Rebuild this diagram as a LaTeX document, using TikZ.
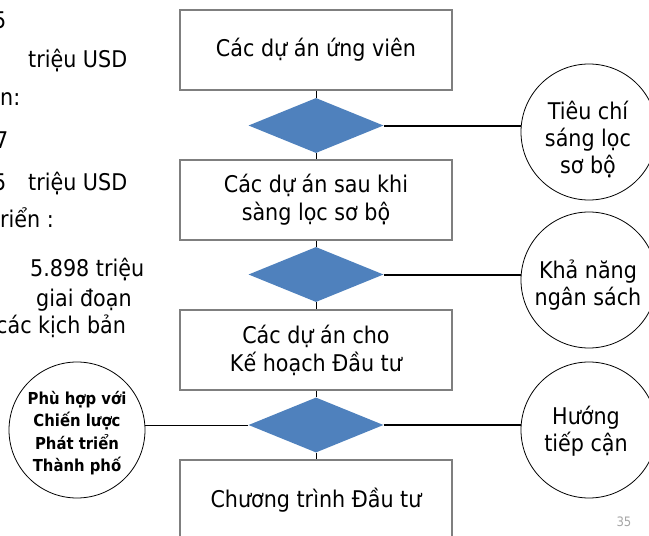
\documentclass[tikz,border=0pt]{standalone}
\usepackage{fontspec}
\setmainfont{DejaVu Sans Condensed}
\usetikzlibrary{shapes.geometric}
\definecolor{diablue}{HTML}{4F81BD}
\definecolor{boxgray}{HTML}{7F7F7F}
\definecolor{pagegray}{HTML}{A6A6A6}
\begin{document}
\begin{tikzpicture}[x=1pt,y=-1pt,
  box/.style={draw=boxgray, line width=1.2pt, minimum width=272pt, minimum height=80pt, align=center, font=\fontsize{23}{28}\selectfont, inner sep=0pt},
  dia/.style={diamond, fill=diablue, draw=none, minimum width=135pt, minimum height=55pt, inner sep=0pt},
  crit/.style={circle, draw=black, line width=0.8pt, minimum size=136pt, inner sep=0pt},
  crittext/.style={align=center, font=\fontsize{23}{27}\selectfont, inner sep=0pt},
  side/.style={anchor=base west, font=\fontsize{23}{28}\selectfont, inner sep=0pt},
  thinline/.style={draw=black, line width=0.8pt},
  thickline/.style={draw=black, line width=2pt}]
\useasboundingbox (0,0) rectangle (649,536);
\clip (0,0) rectangle (649,536);
% boxes
\node[box] (b1) at (316,50) {Các dự án ứng viên};
\node[box] (b2) at (316,200) {Các dự án sau khi\\sàng lọc sơ bộ};
\node[box] (b3) at (316,350) {Các dự án cho\\Kế hoạch Đầu tư};
\node[box] (b4) at (316,500) {Chương trình Đầu tư};
% diamonds
\node[dia] (d1) at (316,125.5) {};
\node[dia] (d2) at (316,274.5) {};
\node[dia] (d3) at (316,425) {};
% circles
\node[crit] (c1) at (589,132) {};
\node[crit] (c2) at (589,280) {};
\node[crit] (c3) at (589,430) {};
\node[crit] (c4) at (77,430) {};
\node[crittext] (t1) at (588,139) {Tiêu chí\\sáng lọc\\sơ bộ};
\node[crittext] (t2) at (588,285) {Khả năng\\ngân sách};
\node[crittext] (t3) at (586,431) {Hướng\\tiếp cận};
\node[crittext, font=\bfseries\fontsize{16.5}{22.5}\selectfont] (t4) at (77,433) {Phù hợp với\\Chiến lược\\Phát triển\\Thành phố};
% connectors
\draw[thinline] (b1.south) -- (d1.north);
\draw[thinline] (d1.south) -- (b2.north);
\draw[thinline] (b2.south) -- (d2.north);
\draw[thinline] (d2.south) -- (b3.north);
\draw[thinline] (b3.south) -- (d3.north);
\draw[thinline] (d3.south) -- (b4.north);
\draw[thickline] (d1.east) -- (d1.east -| c1.west);
\draw[thickline] (d2.east) -- (d2.east -| c2.west);
\draw[thickline] (d3.east) -- (d3.east -| c3.west);
\draw[thinline] (d3.west) -- (d3.west -| c4.east);
% left text (cut off)
\node[side] (l1) at (-7,28) {5};
\node[side] (l2) at (28,67) {triệu USD};
\node[side] (l3) at (0,105) {n:};
\node[side] (l4) at (-5,148) {7};
\node[side] (l5a) at (-7,190) {5};
\node[side] (l5b) at (28,190) {triệu USD};
\node[side] (l6) at (0,227) {riển :};
\node[side] (l7) at (30,276) {5.898 triệu};
\node[side] (l8) at (36,306) {giai đoạn};
\node[side] (l9) at (-4,333) {các kịch bản};
% page number
\node[font=\fontsize{13}{15}\selectfont, text=pagegray] (pg) at (624,522) {35};
\end{tikzpicture}
\end{document}
